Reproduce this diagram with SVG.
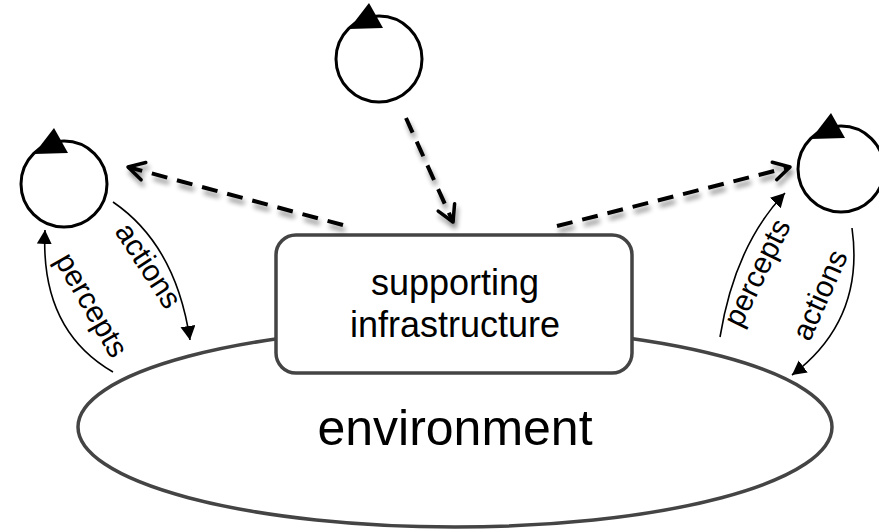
<svg xmlns="http://www.w3.org/2000/svg" xmlns:xlink="http://www.w3.org/1999/xlink" width="879" height="530" viewBox="0 0 879 530">
<style>
  text { font-family: "Liberation Sans", Arial, Helvetica, sans-serif; fill: #000; }
  .env { fill: #fff; stroke: #444; stroke-width: 3.5; }
  .box { fill: #fff; stroke: #444; stroke-width: 3.5; }
  .agent-c { fill: #fff; stroke: #000; stroke-width: 3; }
  .agent-t { fill: #000; }
  .flow { fill: none; stroke: #000; stroke-width: 1.6; marker-end: url(#solid); }
  .dash { fill: none; stroke: #000; stroke-width: 4; stroke-dasharray: 16 10; marker-end: url(#open); }
  .lbl { font-size: 30px; text-anchor: middle; }
  .boxlbl { font-size: 36px; text-anchor: middle; }
  .envlbl { font-size: 50px; text-anchor: middle; }
</style>
<defs>
  <marker id="solid" markerUnits="userSpaceOnUse" markerWidth="16" markerHeight="16" refX="14" refY="7.5" orient="auto" viewBox="0 0 16 16">
    <path d="M0,0 L14,7.5 L0,15 z" fill="#000"/>
  </marker>
  <marker id="open" markerUnits="userSpaceOnUse" markerWidth="24" markerHeight="24" refX="20" refY="12" orient="auto" viewBox="0 0 24 24">
    <path d="M4,3 L20,12 L4,21" fill="none" stroke="#000" stroke-width="3.5" stroke-linecap="round" stroke-linejoin="round"/>
  </marker>
  <filter id="shadow" x="-20%" y="-20%" width="140%" height="160%">
    <feGaussianBlur in="SourceAlpha" stdDeviation="2.5"/>
    <feOffset dx="2" dy="5" result="b"/>
    <feComponentTransfer result="s"><feFuncA type="linear" slope="0.45"/></feComponentTransfer>
    <feMerge><feMergeNode in="s"/><feMergeNode in="SourceGraphic"/></feMerge>
  </filter>
  <g id="agent">
    <circle class="agent-c" cx="0" cy="0" r="43"/>
    <polygon class="agent-t" points="-10,-56 -30,-30 4,-31"/>
  </g>
</defs>

<g id="environment">
  <ellipse class="env" cx="455" cy="427" rx="377" ry="100"/>
  <text class="envlbl" x="455" y="445">environment</text>
</g>

<g id="infrastructure">
  <rect class="box" x="276" y="235" width="356" height="138" rx="20" ry="20"/>
  <text class="boxlbl" x="455" y="295">supporting</text>
  <text class="boxlbl" x="455" y="337">infrastructure</text>
</g>

<g id="agent-top" transform="translate(379,59)"><use xlink:href="#agent" href="#agent"/></g>
<g id="agent-left" transform="translate(64,184)"><use xlink:href="#agent" href="#agent"/></g>
<g id="agent-right" transform="translate(841,169)"><use xlink:href="#agent" href="#agent"/></g>

<g id="connectors">
  <g filter="url(#shadow)">
    <path class="dash" d="M343,225 L128,167"/>
    <path class="dash" d="M406,118 L453,222"/>
    <path class="dash" d="M557,226 L790,167"/>
  </g>
  <path class="flow" d="M113,202 Q176,245 190,340"/>
  <path class="flow" d="M113,372 Q40,330 45,230"/>
  <path class="flow" d="M720,337 Q735,245 785,193"/>
  <path class="flow" d="M852,228 Q865,320 792,375"/>
  <text class="lbl" transform="translate(140,271) rotate(57)">actions</text>
  <text class="lbl" transform="translate(83,310) rotate(60)">percepts</text>
  <text class="lbl" transform="translate(766,277) rotate(-64)">percepts</text>
  <text class="lbl" transform="translate(829,299) rotate(-66)">actions</text>
</g>
</svg>
